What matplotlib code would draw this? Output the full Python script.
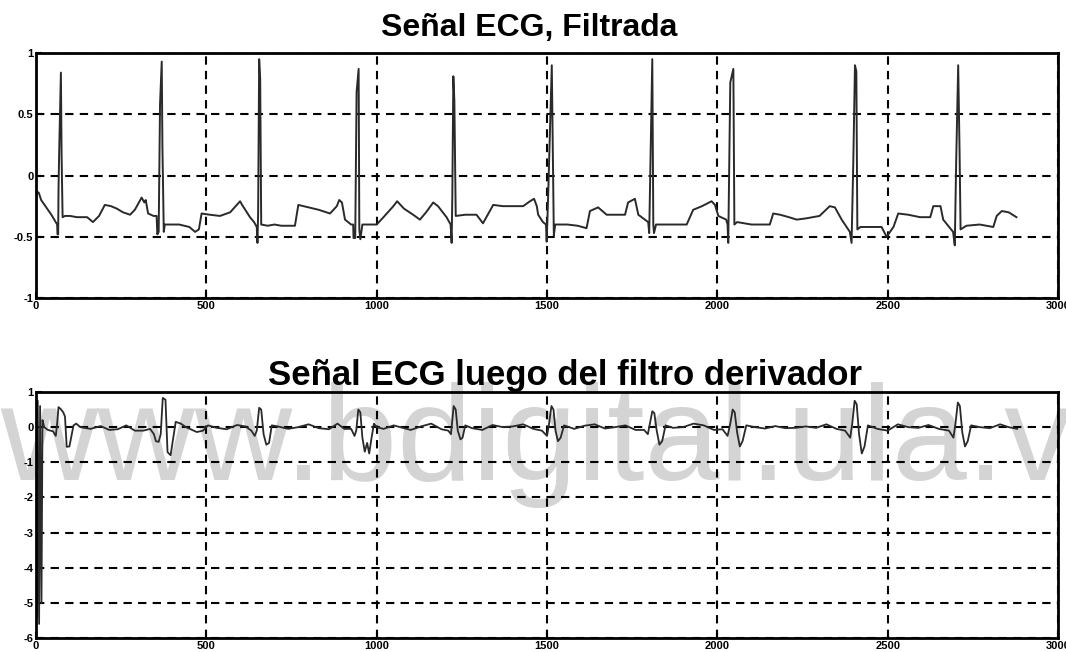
import numpy as np
import matplotlib
matplotlib.use('Agg')
import matplotlib.pyplot as plt

plt.rcParams['font.family'] = ['Liberation Sans', 'DejaVu Sans']
plt.rcParams['axes.unicode_minus'] = False

# filtered ECG, traced vertices (sample, amplitude)
ecg_filtrada = np.array([
    (0, -0.13), (8, -0.14), (15, -0.20), (30, -0.26), (45, -0.32), (58, -0.38), (62, -0.40),
    (63, -0.48), (65, -0.48), (66, -0.11), (68, 0.20), (73, 0.84), (75, 0.17), (78, -0.34),
    (85, -0.33), (100, -0.33), (120, -0.34), (150, -0.34), (167, -0.38), (185, -0.33),
    (202, -0.24), (220, -0.25), (237, -0.27), (255, -0.30), (276, -0.32), (290, -0.28),
    (310, -0.18), (318, -0.22), (322, -0.20), (329, -0.31), (345, -0.33), (354, -0.33),
    (356, -0.48), (360, -0.46), (364, 0.58), (369, 0.93), (371, 0.24), (375, -0.46),
    (378, -0.40), (400, -0.40), (420, -0.40), (450, -0.42), (467, -0.46), (478, -0.44),
    (486, -0.31), (510, -0.32), (540, -0.33), (570, -0.30), (599, -0.21), (605, -0.24),
    (628, -0.34), (640, -0.38), (648, -0.42), (650, -0.55), (652, -0.30), (655, 0.95),
    (658, 0.79), (661, -0.40), (680, -0.41), (700, -0.40), (720, -0.41), (745, -0.41),
    (760, -0.41), (770, -0.24), (800, -0.26), (830, -0.28), (863, -0.31), (883, -0.25),
    (890, -0.20), (898, -0.22), (907, -0.36), (925, -0.40), (931, -0.40), (932, -0.51),
    (937, -0.51), (941, 0.68), (947, 0.87), (949, -0.44), (952, -0.52), (958, -0.40),
    (980, -0.40), (1000, -0.40), (1020, -0.34), (1049, -0.25), (1060, -0.21), (1080, -0.27),
    (1107, -0.32), (1127, -0.36), (1145, -0.30), (1166, -0.22), (1180, -0.25), (1205, -0.34),
    (1217, -0.40), (1220, -0.55), (1222, -0.17), (1225, 0.81), (1228, 0.61), (1232, -0.33),
    (1260, -0.32), (1293, -0.32), (1312, -0.39), (1342, -0.24), (1370, -0.25), (1400, -0.25),
    (1430, -0.25), (1450, -0.21), (1462, -0.19), (1470, -0.25), (1474, -0.32), (1488, -0.38),
    (1497, -0.40), (1499, -0.54), (1503, -0.20), (1514, 0.90), (1517, 0.20), (1520, -0.49),
    (1524, -0.40), (1560, -0.40), (1590, -0.41), (1616, -0.43), (1626, -0.29), (1650, -0.26),
    (1675, -0.32), (1700, -0.32), (1729, -0.32), (1738, -0.22), (1758, -0.19), (1768, -0.32),
    (1797, -0.38), (1800, -0.47), (1805, 0.30), (1809, 0.95), (1812, -0.40), (1814, -0.47),
    (1820, -0.40), (1860, -0.40), (1910, -0.40), (1929, -0.28), (1955, -0.25), (1983, -0.21),
    (1993, -0.24), (2003, -0.33), (2026, -0.36), (2030, -0.40), (2032, -0.55), (2038, 0.76),
    (2047, 0.87), (2050, -0.40), (2058, -0.38), (2100, -0.40), (2130, -0.40), (2154, -0.40),
    (2164, -0.31), (2184, -0.32), (2210, -0.34), (2233, -0.36), (2260, -0.35), (2300, -0.33),
    (2330, -0.25), (2345, -0.26), (2365, -0.36), (2389, -0.46), (2394, -0.55), (2399, 0.10),
    (2404, 0.90), (2408, 0.85), (2411, -0.44), (2420, -0.42), (2450, -0.42), (2482, -0.42),
    (2497, -0.50), (2517, -0.42), (2531, -0.31), (2560, -0.32), (2595, -0.34), (2625, -0.34),
    (2634, -0.25), (2655, -0.25), (2663, -0.36), (2692, -0.46), (2697, -0.57), (2701, 0.10),
    (2707, 0.90), (2711, 0.20), (2714, -0.44), (2731, -0.41), (2770, -0.40), (2810, -0.42),
    (2820, -0.33), (2835, -0.29), (2855, -0.30), (2878, -0.34),
])

# output of the derivative filter, traced vertices
ecg_derivada = np.array([
    (0, 0.6), (3, -5.4), (5, 0.75), (9, -5.6), (12, 0.6), (16, -5.0), (19, 0.2), (24, 0.0),
    (35, -0.08), (50, -0.12),
    (58, -0.25), (62, 0.1), (66, 0.57), (72, 0.52), (80, 0.42), (85, 0.3), (90, -0.56),
    (98, -0.55), (104, -0.25), (110, 0.05), (118, 0.1), (130, 0.0),
    (160, -0.05), (190, 0.03), (215, -0.08), (240, -0.06), (265, 0.05), (290, -0.1),
    (315, -0.1), (335, -0.05),
    (346, -0.2), (352, -0.4), (360, -0.42), (366, -0.2), (372, 0.83), (380, 0.78),
    (386, -0.71), (395, -0.8), (402, -0.35), (410, 0.15), (425, 0.1), (440, 0.0),
    (472, -0.14), (490, -0.1), (505, 0.05), (530, -0.02), (560, -0.06), (590, 0.06),
    (615, 0.02), (632, -0.1),
    (642, -0.25), (648, -0.1), (655, 0.55), (661, 0.5), (668, -0.2), (676, -0.5),
    (684, -0.45), (692, 0.05),
    (710, 0.02), (740, -0.05), (770, 0.0), (800, 0.08), (830, -0.03), (860, -0.06),
    (885, 0.1), (905, -0.05), (925, -0.05),
    (935, -0.25), (940, -0.1), (946, 0.5), (952, 0.42), (958, -0.3), (965, -0.7),
    (972, -0.45), (978, -0.75), (985, -0.3), (992, 0.1), (1000, 0.0),
    (1020, -0.05), (1050, 0.05), (1080, -0.03), (1100, -0.08), (1130, 0.02), (1160, 0.1),
    (1190, -0.06), (1210, -0.1),
    (1218, -0.2), (1226, 0.6), (1232, 0.5), (1238, -0.1), (1246, -0.35), (1252, -0.3),
    (1260, 0.05),
    (1280, -0.03), (1310, -0.08), (1340, 0.06), (1370, 0.0), (1400, 0.02), (1430, 0.08),
    (1460, -0.05), (1485, -0.1),
    (1500, -0.25), (1506, 0.1), (1513, 0.6), (1519, 0.5), (1525, -0.1), (1532, -0.4),
    (1540, -0.3), (1550, 0.05),
    (1580, -0.05), (1610, 0.04), (1640, 0.08), (1670, -0.04), (1700, 0.0), (1730, 0.05),
    (1760, -0.08), (1785, -0.08),
    (1796, -0.2), (1802, 0.1), (1809, 0.45), (1815, 0.4), (1822, -0.1), (1830, -0.5),
    (1838, -0.4), (1848, 0.05),
    (1870, -0.02), (1900, 0.0), (1930, 0.1), (1960, 0.05), (1990, -0.08), (2015, -0.06),
    (2030, -0.25), (2038, 0.1), (2045, 0.5), (2051, 0.42), (2058, -0.15), (2066, -0.55),
    (2074, -0.4), (2085, 0.05),
    (2110, 0.0), (2140, -0.04), (2170, 0.03), (2200, -0.03), (2230, -0.02), (2260, 0.02),
    (2290, -0.02), (2320, 0.08), (2350, -0.05), (2375, -0.1),
    (2390, -0.3), (2396, 0.1), (2403, 0.75), (2409, 0.65), (2416, -0.2), (2424, -0.75),
    (2432, -0.55), (2442, 0.05),
    (2470, -0.05), (2500, -0.1), (2530, 0.08), (2560, 0.0), (2590, -0.02), (2620, 0.06),
    (2650, -0.05), (2680, -0.1),
    (2693, -0.3), (2699, 0.1), (2706, 0.7), (2712, 0.6), (2719, -0.15), (2727, -0.55),
    (2735, -0.4), (2745, 0.05),
    (2770, 0.0), (2800, -0.03), (2830, 0.08), (2855, 0.0), (2880, -0.05),
])

xticks = [0, 500, 1000, 1500, 2000, 2500, 3000]
yticks_top = [-1, -0.5, 0, 0.5, 1]
yticks_bot = [-6, -5, -4, -3, -2, -1, 0, 1]

fig = plt.figure(figsize=(10.66, 6.52), dpi=100)
ax1 = fig.add_axes([0.0338, 0.5429, 0.9587, 0.3758])
ax2 = fig.add_axes([0.0338, 0.0215, 0.9587, 0.3773])

def style(ax, yticks, ylim):
    ax.set_xlim(0, 3000)
    ax.set_ylim(*ylim)
    ax.set_xticks(xticks)
    ax.set_yticks(yticks)
    ax.grid(True, color='black', linestyle=(0, (4, 3)), linewidth=1.5)
    for s in ax.spines.values():
        s.set_linewidth(2)
    ax.tick_params(direction='in', length=4, width=1.5, labelsize=8, pad=2)
    for lab in ax.get_xticklabels() + ax.get_yticklabels():
        lab.set_fontweight('bold')

ax1.plot(ecg_filtrada[:, 0], ecg_filtrada[:, 1], color='#2a2a2a', lw=1.4)
style(ax1, yticks_top, (-1, 1))
ax1.set_yticklabels(['-1', '-0.5', '0', '0.5', '1'])
ax1.set_title('Señal ECG, Filtrada', fontsize=23, fontweight='bold', pad=12, x=0.483)

ax2.plot(ecg_derivada[:, 0], ecg_derivada[:, 1], color='#2a2a2a', lw=1.3)
style(ax2, yticks_bot, (-6, 1))
ax2.set_title('Señal ECG luego del filtro derivador', fontsize=25, fontweight='bold',
              pad=3, x=0.518)
ax2.patch.set_alpha(0)

# site watermark across the lower panel
fig.text(0.0, 0.264, 'www.bdigital.ula.ve', fontsize=97, color='#d4d4d4',
         va='baseline', zorder=-1)

fig.savefig('out.png', dpi=100)
